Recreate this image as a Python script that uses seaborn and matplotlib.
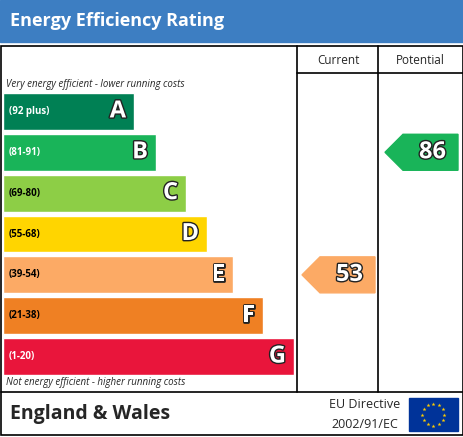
import numpy as np
import matplotlib.pyplot as plt
import matplotlib.patches as mpatches
import matplotlib.patheffects as pe
import seaborn as sns
import pandas as pd

sns.set_style('white')
plt.rcParams['font.family'] = ['Open Sans', 'DejaVu Sans']

# data
bands = ['A', 'B', 'C', 'D', 'E', 'F', 'G']
ranges = ['(92 plus)', '(81-91)', '(69-80)', '(55-68)', '(39-54)', '(21-38)', '(1-20)']
bar_ends = [131, 153, 183, 204, 230, 260, 291]
colors = ['#008054', '#19b459', '#8dce46', '#ffd500', '#fcaa65', '#ef8023', '#e9153b']
current = 53
current_band = 'E'
potential = 86
potential_band = 'B'

W, H = 464, 437
fig = plt.figure(figsize=(W / 100, H / 100), dpi=100)
ax = fig.add_axes([0, 0, 1, 1])
ax.set_xlim(0, W)
ax.set_ylim(H, 0)
ax.axis('off')

# title bar
ax.add_patch(mpatches.Rectangle((0, 0), W, 42, color='#3d7ec2'))
ax.text(10, 21, 'Energy Efficiency Rating', color='white', fontsize=13,
        fontweight='bold', va='center')

# frame
lw = 1.2
ax.add_patch(mpatches.Rectangle((1, 46), W - 2, 389, fill=False, lw=lw, ec='black'))
for x in (297, 378):
    ax.plot([x, x], [46, 392], color='black', lw=lw)
ax.plot([297, W - 1], [73, 73], color='black', lw=lw)
ax.plot([1, W - 1], [392, 392], color='black', lw=lw)
ax.text(338, 61, 'Current', ha='center', va='center', fontsize=8.5)
ax.text(420, 61, 'Potential', ha='center', va='center', fontsize=8.5)
ax.text(6, 85, 'Very energy efficient - lower running costs', fontsize=7,
        style='italic', va='center')
ax.text(6, 383, 'Not energy efficient - higher running costs', fontsize=7,
        style='italic', va='center')

# footer
ax.text(10, 414, 'England & Wales', fontsize=14, fontweight='bold', va='center')
ax.text(365, 405, 'EU Directive', fontsize=9, ha='center', va='center')
ax.text(365, 424, '2002/91/EC', fontsize=9, ha='center', va='center')
ax.add_patch(mpatches.Rectangle((409, 398), 49, 33, color='#003399'))
ang = np.linspace(0, 2 * np.pi, 13)[:-1]
ax.scatter(433.5 + 11 * np.cos(ang), 414.5 + 11 * np.sin(ang), marker='*',
           s=9, color='#ffcc00', lw=0)

# bars
y0, y1 = 91, 377
bax = fig.add_axes([3 / W, 1 - y1 / H, 294 / W, (y1 - y0) / H])
df = pd.DataFrame({'band': bands, 'end': bar_ends})
sns.barplot(data=df, x='end', y='band', hue='band', palette=colors,
            orient='h', width=0.9, legend=False, ax=bax, saturation=1)
bax.set_xlim(0, 294)
bax.axis('off')
outline = [pe.withStroke(linewidth=2, foreground='#222222')]
for i, (b, r, e) in enumerate(zip(bands, ranges, bar_ends)):
    tc = 'white' if b in ('A', 'B', 'G') else 'black'
    bax.text(6, i, r, fontsize=7, fontweight='bold', va='center', color=tc)
    bax.text(e - 8, i, b, fontsize=17, fontweight='bold', va='center',
             ha='right', color='white', path_effects=outline)

# rating arrows
def arrow(x0, x1, band, val):
    i = bands.index(band)
    yc = y0 + (i + 0.5) * (y1 - y0) / 7
    h = 18
    poly = [(x0, yc), (x0 + 18, yc - h), (x1, yc - h), (x1, yc + h), (x0 + 18, yc + h)]
    ax.add_patch(mpatches.Polygon(poly, color=colors[i]))
    ax.text((x0 + 18 + x1) / 2 + 2, yc, str(val), fontsize=17, fontweight='bold',
            color='white', ha='center', va='center', path_effects=outline)

arrow(302, 375, current_band, current)
arrow(385, 458, potential_band, potential)

fig.savefig('out.png', dpi=100)
